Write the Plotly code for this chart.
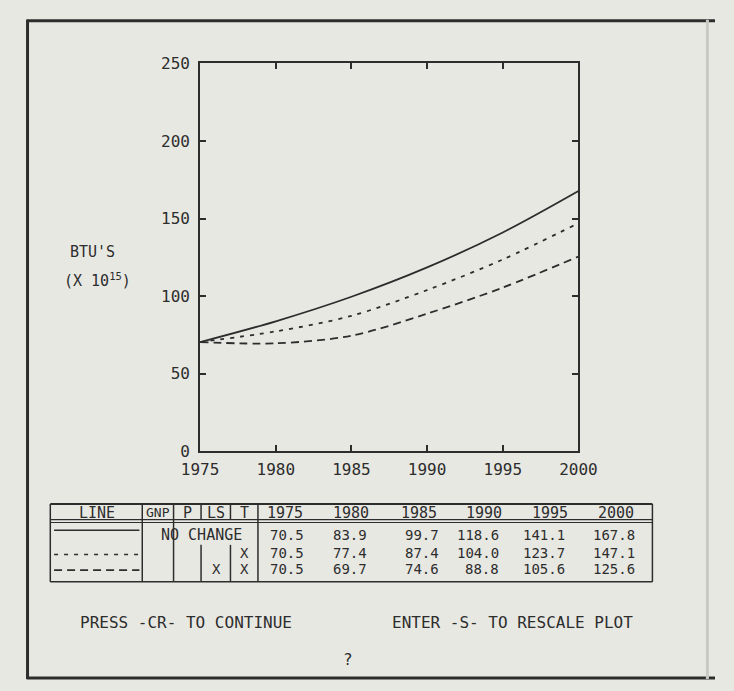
import plotly.graph_objects as go

W, H = 734, 691

# ---------------- data ----------------
years = [1975, 1980, 1985, 1990, 1995, 2000]
no_change = [70.5, 83.9, 99.7, 118.6, 141.1, 167.8]
change_t = [70.5, 77.4, 87.4, 104.0, 123.7, 147.1]
change_ls_t = [70.5, 69.7, 74.6, 88.8, 105.6, 125.6]

y_ticks = [0, 50, 100, 150, 200, 250]
x_ticks = years

flag_headers = ["LINE", "GNP", "P", "LS", "T"]
row_flags = [
    None,                      # NO CHANGE row
    ["", "", "", "X"],          # GNP, P, LS, T
    ["", "", "X", "X"],
]
series_values = [no_change, change_t, change_ls_t]
series_dash = ["solid", "4px,6px", "8px,5px"]

y_title = "BTU'S"
y_unit = "(X 10<sup>15</sup>)"
msg_left = "PRESS -CR- TO CONTINUE"
msg_right = "ENTER -S- TO RESCALE PLOT"
prompt = "?"

# ---------------- style ----------------
INK = "#2d2d2d"
BG = "#e8e8e3"
FONT = "DejaVu Sans Mono"


def px(x):
    return x / W


def py(y):
    return 1 - y / H


fig = go.Figure()

for vals, dash in zip(series_values, series_dash):
    fig.add_trace(go.Scatter(
        x=years, y=vals, mode="lines",
        line=dict(color=INK, width=1.8, dash=dash, shape="spline", smoothing=0.9),
        showlegend=False, hoverinfo="skip",
    ))

shapes = []
ann = []


def hline(x0, x1, y, w=1.5, color=INK, dash="solid"):
    shapes.append(dict(type="line", xref="paper", yref="paper",
                       x0=px(x0), x1=px(x1), y0=py(y), y1=py(y),
                       line=dict(color=color, width=w, dash=dash)))


def vline(x, y0, y1, w=1.5, color=INK):
    shapes.append(dict(type="line", xref="paper", yref="paper",
                       x0=px(x), x1=px(x), y0=py(y0), y1=py(y1),
                       line=dict(color=color, width=w)))


def text(x, y, s, size=15, xanchor="center"):
    ann.append(dict(xref="paper", yref="paper", x=px(x), y=py(y), text=s,
                    showarrow=False, xanchor=xanchor, yanchor="middle",
                    font=dict(family=FONT, size=size, color=INK)))


# screen frame
hline(8, 734, 12, w=3)
vline(9, 11, 689, w=3)
hline(8, 734, 688, w=3)
vline(726, 11, 689, w=3, color="#c9c9c4")

# y axis title
text(77, 250, y_title, size=15)
text(83, 279, y_unit, size=15)

# ---------------- table ----------------
T_L, T_R, T_T, T_B = 33, 668, 509, 589
col_div = [130, 163, 192, 223, 252]
hline(T_L, T_R, T_T, w=2)
hline(T_L, T_R, T_B, w=1.5)
hline(T_L, T_R, 525, w=1.2)
hline(T_L, T_R, 528, w=1.2)
vline(T_L, T_T, T_B, w=1.5)
vline(T_R, T_T, T_B, w=1.5)
vline(col_div[0], T_T, T_B)
vline(col_div[1], T_T, T_B)
vline(col_div[2], T_T, 525)
vline(col_div[2], 551, T_B)
vline(col_div[3], T_T, 525)
vline(col_div[3], 551, T_B)
vline(col_div[4], T_T, T_B)

header_y = 518
row_y = [541, 559, 576]
sample_y = [536, 561, 577]
flag_x = [82, 147, 178, 208, 238]
year_right = [303, 369, 445, 508, 578, 652]
year_center = [281, 350, 422, 490, 560, 630]

for h, x in zip(flag_headers, flag_x):
    text(x, header_y, h, size=15 if h != "GNP" else 13)
for yr, x in zip(years, year_center):
    text(x, header_y, str(yr), size=15)

for i, (vals, dash) in enumerate(zip(series_values, series_dash)):
    hline(37, 127, sample_y[i], w=1.6, dash=dash)
    flags = row_flags[i]
    if flags is None:
        text(192, row_y[i], "NO CHANGE", size=15)
    else:
        for f, x in zip(flags, flag_x[1:]):
            if f:
                text(x, row_y[i], f, size=14)
    for v, x in zip(vals, year_right):
        text(x, row_y[i], f"{v:.1f}", size=14, xanchor="right")

# messages
text(62, 631, msg_left, size=16, xanchor="left")
text(391, 631, msg_right, size=16, xanchor="left")
text(347, 669, prompt, size=16)

axis_common = dict(
    showline=True, linecolor=INK, linewidth=2, mirror="ticks",
    ticks="inside", ticklen=6, tickwidth=2, tickcolor=INK,
    showgrid=False, zeroline=False,
    tickfont=dict(family=FONT, size=16, color=INK),
)

fig.update_layout(
    width=W, height=H,
    margin=dict(l=0, r=0, t=0, b=0),
    paper_bgcolor=BG, plot_bgcolor=BG,
    showlegend=False,
    xaxis=dict(range=[1975, 2000], tickvals=x_ticks, domain=[px(191), px(590)],
               ticklabelstandoff=2, **axis_common),
    yaxis=dict(range=[0, 250], tickvals=y_ticks, domain=[py(455), py(56)],
               ticklabelstandoff=5, **axis_common),
    shapes=shapes,
    annotations=ann,
)

fig.write_html("out.html")
